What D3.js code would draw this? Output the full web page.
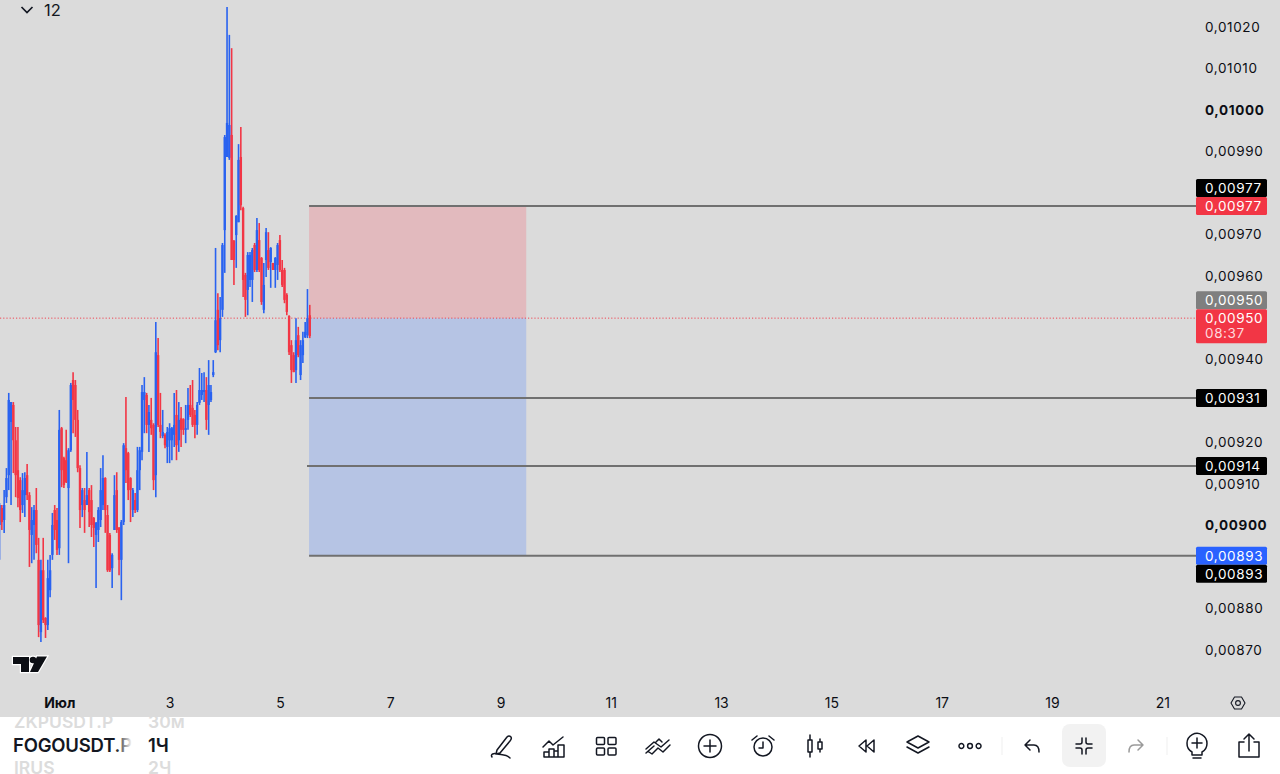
<!DOCTYPE html>
<html>
<head>
<meta charset="utf-8">
<title>FOGOUSDT.P 1H</title>
<script src="https://cdn.jsdelivr.net/npm/d3@7"></script>
<style>
html, body { margin: 0; padding: 0; background: #fff; overflow: hidden; }
svg { display: block; }
text { font-family: Inter, "Noto Sans", sans-serif; }
</style>
</head>
<body>
<svg id="chart" width="1280" height="774"></svg>
<script>
// prices are in points, 1 point = 0.00001
const opens = [900.1,904.2,901.3,906.8,912.1,924.9,929.0,920.5,913.3,910.9,904.9,907.3,912.1,907.3,897.7,900.1,903.7,891.7,874.3,889.2,877.7,876.0,884.4,892.9,903.7,901.3,894.5,923.4,916.2,915.7,909.0,918.1,935.0,933.8,925.4,913.8,904.9,906.1,904.9,908.5,906.1,901.8,897.7,898.9,901.3,904.9,911.4,902.5,897.7,889.7,898.9,908.5,899.4,891.7,900.8,918.6,917.4,911.4,903.7,906.1,903.7,913.3,917.7,930.2,931.4,924.2,925.4,924.2,912.1,941.0,924.2,921.5,921.8,918.9,920.5,920.5,921.8,926.6,920.5,925.8,925.6,923.0,925.4,929.0,928.3,926.6,924.2,929.5,931.4,932.1,932.6,929.0,930.2,936.2,941.7,951.9,944.6,951.9,971.1,988.7,988.5,994.0,968.5,969.9,973.0,988.7,976.4,960.3,956.7,959.1,959.1,967.5,961.5,968.7,964.4,951.9,963.9,966.3,963.4,963.2,961.5,962.7,968.7,961.5,961.5,955.5,950.4,943.4,941.0,937.4,945.8,936.2,941.0,945.3,945.8,950.6];
const highs = [905.4,904.9,908.5,913.8,931.9,929.7,929.7,923.7,923.7,911.6,912.6,912.8,914.8,908.0,904.4,904.9,909.0,897.0,891.7,897.0,877.9,891.7,892.9,903.0,904.9,904.2,927.8,923.7,916.5,923.0,918.6,934.3,936.9,935.0,927.8,914.5,909.0,909.0,917.7,909.0,909.7,902.0,900.8,904.4,913.8,916.9,911.6,904.9,898.2,893.3,912.1,912.8,899.6,901.3,919.8,930.9,917.7,911.6,909.0,907.8,918.9,918.9,933.8,935.7,931.9,929.0,930.7,924.6,949.0,945.1,931.9,927.8,922.2,923.7,924.6,923.7,931.9,932.6,929.7,928.5,925.8,929.0,933.1,933.8,935.0,927.8,929.7,937.9,936.7,936.9,935.7,939.8,933.8,939.8,966.8,955.9,955.0,968.0,994.0,1024.8,1018.1,1014.9,968.7,974.7,991.8,995.9,976.7,960.8,965.8,965.8,966.8,968.0,974.0,972.8,964.6,963.2,971.6,970.6,967.0,963.2,964.6,968.0,969.9,963.9,962.0,955.9,950.6,944.6,941.7,949.9,947.8,944.6,946.6,949.0,956.9,953.1];
const lows = [891.7,898.9,898.2,905.4,908.5,904.9,912.6,906.8,904.4,900.8,903.0,902.0,906.1,890.0,890.9,891.7,893.3,873.1,871.9,876.5,872.9,874.8,882.7,891.7,896.5,892.9,892.9,909.2,909.0,910.2,890.9,917.7,922.2,921.3,912.8,899.4,902.0,898.2,904.9,899.6,897.2,894.8,884.9,896.0,899.6,903.7,898.2,888.8,888.8,884.9,898.9,898.2,888.0,882.0,900.1,910.2,906.1,900.8,902.0,903.0,903.2,908.5,915.7,922.2,922.2,917.7,921.8,908.5,906.8,923.7,921.0,921.0,918.6,915.0,915.0,915.7,918.9,915.7,917.7,918.9,921.8,919.8,923.0,926.1,923.7,921.0,921.8,929.0,930.2,929.7,923.0,921.8,929.7,935.7,941.5,942.2,941.7,950.2,960.8,988.7,988.0,963.9,957.9,962.0,973.0,975.9,955.0,950.2,950.6,957.4,953.8,961.0,961.0,961.0,953.1,951.1,959.8,961.5,957.2,961.5,957.2,959.1,961.0,957.4,953.5,950.6,941.0,934.3,936.9,934.3,940.5,935.0,939.1,945.1,945.1,945.1];
const closes = [904.9,900.8,904.9,911.4,930.2,929.7,920.5,912.1,906.6,903.7,908.5,911.4,907.3,898.9,901.3,903.7,895.3,876.0,889.2,877.2,876.0,887.3,889.2,900.1,898.9,894.1,923.0,913.3,909.7,910.4,918.1,933.8,930.2,925.4,913.8,903.7,908.5,903.7,907.3,903.2,900.1,899.4,900.6,903.7,908.5,911.4,903.7,889.2,889.2,892.9,907.3,898.9,891.7,900.8,919.3,913.3,908.5,908.5,908.5,903.7,913.3,918.1,932.1,932.1,924.2,927.3,923.4,910.9,941.7,924.2,922.5,922.5,919.3,922.5,923.4,923.4,924.2,919.3,925.4,923.0,923.0,923.4,929.0,926.6,924.2,924.2,929.0,932.6,932.6,932.6,925.4,933.8,932.1,936.9,949.4,943.4,949.9,967.5,993.5,996.9,996.4,963.9,963.9,974.5,988.0,977.1,959.1,954.3,965.1,965.1,966.3,961.5,971.1,961.5,953.8,957.9,970.6,962.0,966.8,961.5,964.4,967.5,961.5,957.9,954.3,951.4,941.7,937.4,936.9,944.6,941.0,943.4,944.6,946.6,949.9,945.6];

const priceTicks = [1020,1010,1000,990,970,960,940,920,910,900,880,870];
const boldTicks = [1000,900];
const dayTicks = [1,3,5,7,9,11,13,15,17,19,21];
const levels = [976.9,930.7,914.3,892.7];
const entryPrice = 949.9;
const stopPrice = levels[0];
const targetPrice = levels[3];
const firstCandleHour = -26; // hours relative to 1 July 00:00
const zoneStartHour = 108.7, zoneEndHour = 203.2;

// price badges on the scale: value, slot (0 centred on the price, -1 stacked above, 1 stacked below), fill
const badges = [
	{ v: 976.9, slot: -1, fill: "#000", h: 18 },
	{ v: 976.9, slot: 0, fill: "#f23645", h: 18 },
	{ v: 949.9, slot: -1, fill: "#7f7f7f", h: 18 },
	{ v: 949.9, slot: 0, fill: "#f23645", h: 34, sub: "08:37" },
	{ v: 930.7, slot: 0, fill: "#000", h: 18 },
	{ v: 914.3, slot: 0, fill: "#000", h: 18 },
	{ v: 892.7, slot: 0, fill: "#2962ff", h: 18 },
	{ v: 892.7, slot: 1, fill: "#000", h: 18 }
];

const W = 1280, H = 774, chartBottom = 717, scaleX = 1196;
const day = t => new Date(Date.UTC(2025, 6, 1) + t * 3600e3);
const fmt = v => (v / 1e5).toFixed(5).replace(".", ",");

const x = d3.scaleUtc().domain([day(0), day(20 * 24)]).range([59.3, 1162.3]);
const y = d3.scaleLinear().domain([1020, 870]).range([27, 650]);

const svg = d3.select("#chart");
svg.append("rect").attr("width", W).attr("height", chartBottom).attr("fill", "#dbdbdb");
svg.append("rect").attr("y", chartBottom).attr("width", W).attr("height", H - chartBottom).attr("fill", "#fff");

// risk/reward zones
const zoneX = x(day(zoneStartHour)), zoneW = x(day(zoneEndHour)) - zoneX;
svg.append("rect").attr("x", zoneX).attr("width", zoneW)
	.attr("y", y(stopPrice)).attr("height", y(entryPrice) - y(stopPrice)).attr("fill", "#e2babe");
svg.append("rect").attr("x", zoneX).attr("width", zoneW)
	.attr("y", y(entryPrice)).attr("height", y(targetPrice) - y(entryPrice)).attr("fill", "#b6c4e4");

// last price line
svg.append("line").attr("x1", 0).attr("x2", scaleX)
	.attr("y1", y(entryPrice)).attr("y2", y(entryPrice))
	.attr("stroke", "#f23645").attr("stroke-width", 0.9).attr("stroke-dasharray", "1.2 2");

// candles
const candles = d3.range(opens.length).map(i => ({
	t: day(firstCandleHour + i), o: opens[i], h: highs[i], l: lows[i], c: closes[i]
}));
const color = d => d.c >= d.o ? "#2962f0" : "#f23645";
const g = svg.append("g").selectAll("g").data(candles).join("g");
g.append("line")
	.attr("x1", d => x(d.t)).attr("x2", d => x(d.t))
	.attr("y1", d => y(d.h)).attr("y2", d => y(d.l))
	.attr("stroke", color).attr("stroke-width", 1.6);
g.append("rect")
	.attr("x", d => x(d.t) - 1.2).attr("width", 2.4)
	.attr("y", d => y(Math.max(d.o, d.c)))
	.attr("height", d => Math.max(1, Math.abs(y(d.o) - y(d.c))))
	.attr("fill", color);

// horizontal levels
svg.append("g").selectAll("line").data(levels).join("line")
	.attr("x1", (d, i) => i == 2 ? 307 : zoneX).attr("x2", scaleX)
	.attr("y1", d => y(d)).attr("y2", d => y(d))
	.attr("stroke", "#707070").attr("stroke-width", 2);

// price axis
const yAxis = svg.append("g")
	.attr("transform", `translate(1205,0)`)
	.call(d3.axisRight(y).tickValues(priceTicks).tickSize(0).tickPadding(0).tickFormat(fmt));
yAxis.select(".domain").remove();
yAxis.selectAll("text")
	.attr("font-size", 13.5).attr("fill", "#0c0e14").attr("letter-spacing", "0.62")
	.attr("font-family", "Inter")
	.attr("font-weight", d => boldTicks.includes(d) ? 700 : 400);

// badges
badges.forEach(b => {
	const top = y(b.v) - 9 + b.slot * 18;
	svg.append("rect").attr("x", scaleX).attr("y", top).attr("width", 71).attr("height", b.h)
		.attr("fill", b.fill).attr("rx", 1.5);
	svg.append("text").attr("x", 1205).attr("y", top + 9).attr("dy", "0.36em")
		.attr("font-size", 13.5).attr("letter-spacing", "0.62").attr("fill", "#fff").text(fmt(b.v));
	if (b.sub) svg.append("text").attr("x", 1205).attr("y", top + 24).attr("dy", "0.36em")
		.attr("font-size", 13.5).attr("letter-spacing", "0.62").attr("fill", "#ffd9dd").text(b.sub);
});

// time axis
const xAxis = svg.append("g")
	.attr("transform", `translate(0,703)`)
	.call(d3.axisBottom(x).tickValues(dayTicks.map(d => day((d - 1) * 24))).tickSize(0).tickPadding(0)
		.tickFormat(d => d.getUTCDate() == 1 ? "Июл" : d.getUTCDate()));
xAxis.select(".domain").remove();
xAxis.selectAll("text")
	.attr("dy", "0.36em").attr("y", 0)
	.attr("font-size", 14).attr("fill", "#0c0e14").attr("font-family", "Inter")
	.attr("font-weight", d => d.getUTCDate() == 1 ? 700 : 400);

// settings icon
svg.append("path").attr("transform", "translate(1238,703)")
	.attr("d", "M-7,0 L-3.5,-6 L3.5,-6 L7,0 L3.5,6 L-3.5,6 Z")
	.attr("fill", "none").attr("stroke", "#131722").attr("stroke-width", 1.1).attr("stroke-linejoin", "round");
svg.append("circle").attr("cx", 1238).attr("cy", 703).attr("r", 2.4)
	.attr("fill", "none").attr("stroke", "#131722").attr("stroke-width", 1.1);

// top left collapsed indicators
svg.append("path").attr("d", "M21.5,7 L27,12.5 L32.5,7")
	.attr("fill", "none").attr("stroke", "#131722").attr("stroke-width", 1.7);
svg.append("text").attr("x", 44).attr("y", 15.5).attr("font-size", 16.5).attr("fill", "#131722").text("12");

// logo
const logo = svg.append("g").attr("transform", "translate(12,655)");
logo.append("path").attr("d", "M1,2 H17 V17 H9 V9 H1 Z M24.3,5 A3.3,3.3 0 1 1 17.7,5 A3.3,3.3 0 1 1 24.3,5 Z M25,1.5 H35 L26,17 H18 Z")
	.attr("fill", "#0c0e14").attr("stroke", "#fff").attr("stroke-width", 2.4).attr("paint-order", "stroke");

// symbol picker in the bottom bar
const defs = svg.append("defs");
const fade = defs.append("linearGradient").attr("id", "fade");
fade.append("stop").attr("offset", 0).attr("stop-color", "#fff").attr("stop-opacity", 0);
fade.append("stop").attr("offset", 1).attr("stop-color", "#fff").attr("stop-opacity", 1);
defs.append("clipPath").attr("id", "bar").append("rect")
	.attr("y", chartBottom).attr("width", W).attr("height", H - chartBottom);

const bar = svg.append("g").attr("clip-path", "url(#bar)");
[["ZKPUSDT.P", "30м", 728], ["IRUS", "2Ч", 774]].forEach(r => {
	bar.append("text").attr("x", 14).attr("y", r[2]).attr("font-size", 17.5).attr("font-weight", 600).attr("fill", "#dcdcdc").text(r[0]);
	bar.append("text").attr("x", 148).attr("y", r[2]).attr("font-size", 17.5).attr("font-weight", 600).attr("fill", "#dcdcdc").text(r[1]);
});
svg.append("text").attr("x", 13).attr("y", 752).attr("font-size", 18.5).attr("font-weight", 600)
	.attr("letter-spacing", "-0.2").attr("fill", "#131722").text("FOGOUSDT.P");
svg.append("rect").attr("x", 116).attr("y", 735).attr("width", 16).attr("height", 22).attr("fill", "url(#fade)");
svg.append("text").attr("x", 148).attr("y", 752).attr("font-size", 18.5).attr("font-weight", 600)
	.attr("fill", "#131722").text("1Ч");

// toolbar
svg.append("rect").attr("x", 1062).attr("y", 724).attr("width", 44).attr("height", 43).attr("rx", 8).attr("fill", "#f2f2f2");
const icons = [
	[502, "M-5,4 L5,-9 Q7,-11 9,-9 Q10,-7 8,-5 L-2,7 L-6,8 Z M-10,11 C-12,8 -8,7 -5,8 C0,9 4,8 8,12"],
	[554, "M-11,1 L-5,-5 L-1,-1 L9,-9 M-10,11 V6 H-5 V11 M-5,11 V3 H0 V11 M0,11 V5 H4 V11 M4,11 V-1 H10 V11 H-10"],
	[606, "M-8.5,-8.5 h6 a1,1 0 0 1 1,1 v5 a1,1 0 0 1 -1,1 h-6 a1,1 0 0 1 -1,-1 v-5 a1,1 0 0 1 1,-1 Z M3,-8.5 h6 a1,1 0 0 1 1,1 v5 a1,1 0 0 1 -1,1 h-6 a1,1 0 0 1 -1,-1 v-5 a1,1 0 0 1 1,-1 Z M-8.5,2 h6 a1,1 0 0 1 1,1 v5 a1,1 0 0 1 -1,1 h-6 a1,1 0 0 1 -1,-1 v-5 a1,1 0 0 1 1,-1 Z M3,2 h6 a1,1 0 0 1 1,1 v5 a1,1 0 0 1 -1,1 h-6 a1,1 0 0 1 -1,-1 v-5 a1,1 0 0 1 1,-1 Z"],
	[658, "M-12,3 L-4,-4 L3,1 L11,-6 M-12,7 L-4,0 M-9,6 L-6,8 L0,2 L5,6 L12,-1 M-2,-4 L1,-7 L4,-4"],
	[710, "M-11.5,0 A11.5,11.5 0 1 1 11.5,0 A11.5,11.5 0 1 1 -11.5,0 M-6,0 H6 M0,-6 V6"],
	[763, "M-9,1 A9,9 0 1 1 9,1 A9,9 0 1 1 -9,1 M0,-4 V2 H-4 M-11,-6 L-6,-10 M11,-6 L6,-10"],
	[815, "M-7,-6 h4 v12 h-4 Z M-5,-11 v5 M-5,6 v5 M3,-4 h4 v7 h-4 Z M5,-7 v3 M5,3 v3"],
	[867, "M-1,-6 L-8,0 L-1,6 Z M7,-6 L0,0 L7,6 Z"],
	[918, "M0,-10 L11,-4 L0,2 L-11,-4 Z M-11,1 L0,7 L11,1"],
	[970, "M-11,0 a2.4,2.4 0 1 0 4.8,0 a2.4,2.4 0 1 0 -4.8,0 M-2.4,0 a2.4,2.4 0 1 0 4.8,0 a2.4,2.4 0 1 0 -4.8,0 M6.2,0 a2.4,2.4 0 1 0 4.8,0 a2.4,2.4 0 1 0 -4.8,0"],
	[1032, "M-7,-1 L-2,-6 M-7,-1 L-2,4 M-7,-1 H2 Q7,-1 7,6"],
	[1084, "M-8,-2 H-4 Q-2,-2 -2,-4 V-8 M8,-2 H4 Q2,-2 2,-4 V-8 M-8,2 H-4 Q-2,2 -2,4 V8 M8,2 H4 Q2,2 2,4 V8"],
	[1136, "M7,-1 L2,-6 M7,-1 L2,4 M7,-1 H-2 Q-7,-1 -7,6", "#9a9a9a"],
	[1197, "M-10,-3 A10,10 0 1 1 5,6 V9 H-5 V6 A10,10 0 0 1 -10,-3 M-5,-3 H5 M0,-8 V2 M-4,12 H4"],
	[1249, "M-5,-4 H-10 V11 H10 V-4 H5 M0,5 V-12 M-5,-7 L0,-12 L5,-7"]
];
svg.append("g").selectAll("path").data(icons).join("path")
	.attr("transform", d => `translate(${d[0]},746)`)
	.attr("d", d => d[1])
	.attr("fill", "none").attr("stroke", d => d[2] || "#131722")
	.attr("stroke-width", 1.5).attr("stroke-linecap", "round").attr("stroke-linejoin", "round");
[1002, 1167].forEach(px => svg.append("line").attr("x1", px).attr("x2", px).attr("y1", 737).attr("y2", 755)
	.attr("stroke", "#efefef"));
</script>
</body>
</html>
